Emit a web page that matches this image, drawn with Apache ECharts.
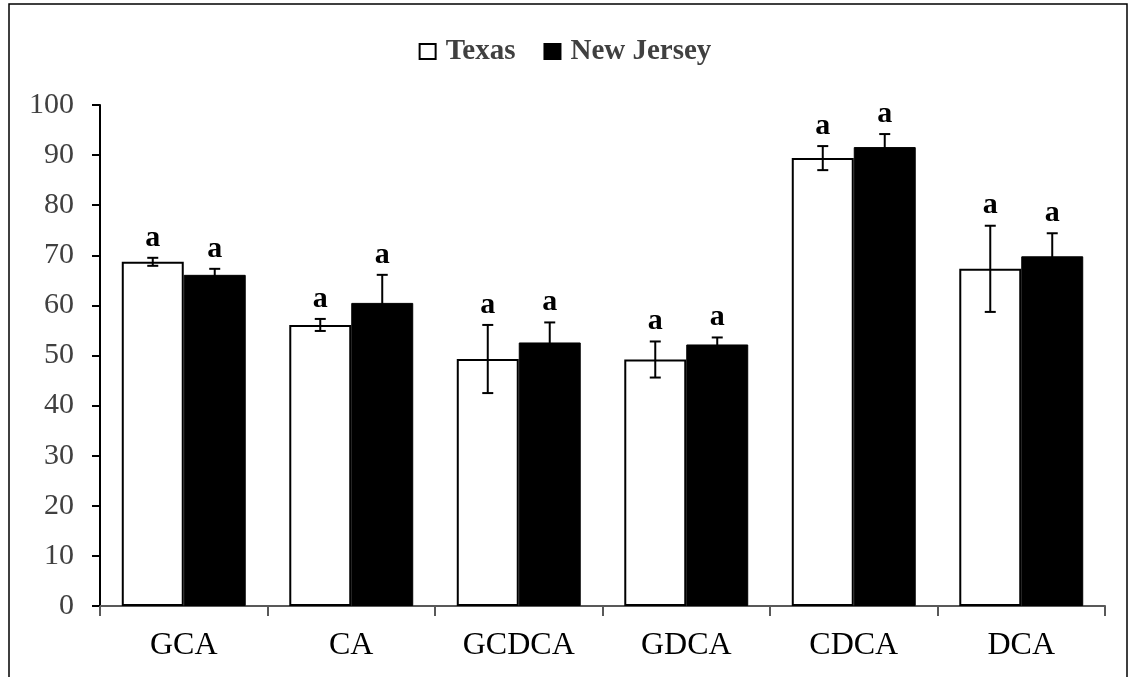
<!DOCTYPE html>
<html>
<head>
<meta charset="utf-8">
<script src="https://cdn.jsdelivr.net/npm/echarts@6/dist/echarts.min.js"></script>
<style>
  html, body { margin: 0; padding: 0; background: #fff; }
  #main { width: 1130px; height: 677px; }
</style>
</head>
<body>
<div id="main"></div>
<script>
// data
var categories = ['GCA', 'CA', 'GCDCA', 'GDCA', 'CDCA', 'DCA']
var texasMean = [68.7, 56.1, 49.3, 49.2, 89.4, 67.3]
var texasErr = [0.8, 1.2, 6.8, 3.6, 2.4, 8.6]
var njMean = [66.1, 60.5, 52.6, 52.2, 91.6, 69.8]
var njErr = [1.2, 5.6, 4.0, 1.4, 2.6, 4.6]
var letters = ['a', 'a', 'a', 'a', 'a', 'a']
var yTicks = [0, 10, 20, 30, 40, 50, 60, 70, 80, 90, 100]

var FONT = '"Liberation Serif", "Times New Roman", serif'
var BAR_FRAC = 0.37

function errSeries (name, means, errs, side) {
  var data = means.map(function (m, i) { return [i, m, errs[i], letters[i]] })
  return {
    type: 'custom',
    name: name + ' err',
    z: 5,
    data: data,
    renderItem: function (params, api) {
      var idx = api.value(0)
      var m = api.value(1)
      var e = api.value(2)
      var band = api.size([1, 0])[0]
      var c = api.coord([idx, m])
      var x = c[0] + side * band * BAR_FRAC / 2
      var top = api.coord([idx, m + e])[1]
      var bot = api.coord([idx, m - e])[1]
      var st = { stroke: '#000', lineWidth: 2 }
      return {
        type: 'group',
        children: [
          { type: 'line', shape: { x1: x, y1: top, x2: x, y2: bot }, style: st },
          { type: 'line', shape: { x1: x - 5.5, y1: top, x2: x + 5.5, y2: top }, style: st },
          { type: 'line', shape: { x1: x - 5.5, y1: bot, x2: x + 5.5, y2: bot }, style: st },
          {
            type: 'text',
            style: {
              x: x, y: top - 5,
              text: data[params.dataIndex][3],
              fill: '#000',
              font: 'bold 30px ' + FONT,
              align: 'center',
              verticalAlign: 'bottom'
            }
          }
        ]
      }
    }
  }
}

var chart = echarts.init(document.getElementById('main'))
var option = {
  animation: false,
  backgroundColor: '#fff',
  graphic: [{
    type: 'rect',
    shape: { x: 9, y: 4, width: 1118, height: 690 },
    style: { fill: 'none', stroke: '#000', lineWidth: 1.5 },
    silent: true
  }],
  legend: {
    top: 32,
    left: 'center',
    itemGap: 28,
    itemWidth: 16,
    itemHeight: 15,
    icon: 'rect',
    textStyle: { fontFamily: FONT, fontWeight: 'bold', fontSize: 29, color: '#404040', padding: [0, 0, 0, 5] },
    data: ['Texas', 'New Jersey']
  },
  grid: { left: 100, right: 25, top: 105, bottom: 71 },
  xAxis: {
    type: 'category',
    data: categories,
    boundaryGap: true,
    axisLine: { lineStyle: { color: '#595959', width: 2 } },
    axisTick: { show: true, alignWithLabel: false, length: 10, lineStyle: { color: '#595959', width: 2 } },
    axisLabel: { fontFamily: FONT, fontSize: 32, color: '#000', margin: 24 }
  },
  yAxis: {
    type: 'value',
    min: yTicks[0],
    max: yTicks[yTicks.length - 1],
    interval: 10,
    splitLine: { show: false },
    axisLine: { show: true, lineStyle: { color: '#000', width: 2 } },
    axisTick: { show: true, length: 8, lineStyle: { color: '#000', width: 2 } },
    axisLabel: { fontFamily: FONT, fontSize: 30, color: '#404040', margin: 26 }
  },
  series: [
    {
      name: 'Texas',
      type: 'bar',
      data: texasMean,
      barWidth: (BAR_FRAC * 100) + '%',
      barGap: '0%',
      itemStyle: { color: '#fff', borderColor: '#000', borderWidth: 2 }
    },
    {
      name: 'New Jersey',
      type: 'bar',
      data: njMean,
      barWidth: (BAR_FRAC * 100) + '%',
      barGap: '0%',
      itemStyle: { color: '#000', borderColor: '#000', borderWidth: 1 }
    },
    errSeries('Texas', texasMean, texasErr, -1),
    errSeries('New Jersey', njMean, njErr, 1)
  ]
}
chart.setOption(option)
</script>
</body>
</html>
